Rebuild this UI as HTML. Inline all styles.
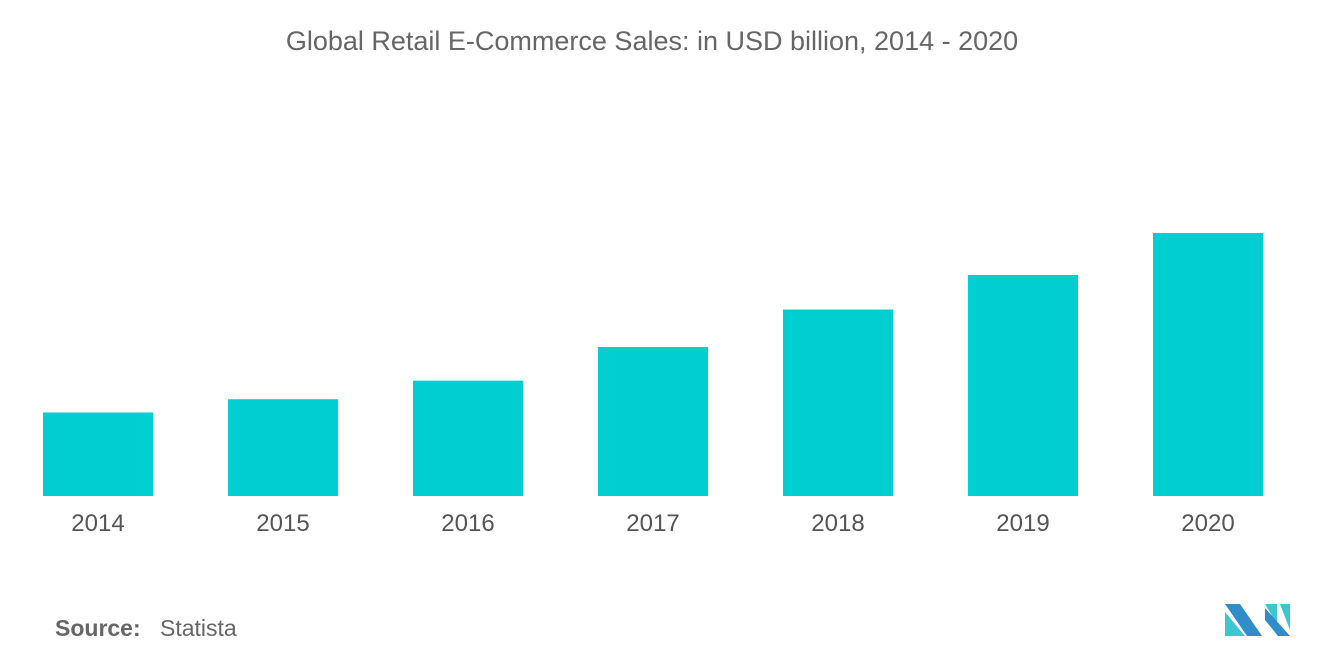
<!DOCTYPE html>
<html><head><meta charset="utf-8"><style>
html,body{margin:0;padding:0;background:#fff;}
body{width:1320px;height:665px;position:relative;overflow:hidden;font-family:"Liberation Sans",sans-serif;}
</style></head><body>
<svg width="1320" height="665" xmlns="http://www.w3.org/2000/svg">
<text x="652" y="50" text-anchor="middle" font-family="Liberation Sans, sans-serif" font-size="27" fill="#666">Global Retail E-Commerce Sales: in USD billion, 2014 - 2020</text>
<g id="bars"></g>
<text x="55" y="636" font-family="Liberation Sans, sans-serif" font-size="23" fill="#666" font-weight="bold">Source:</text>
<text x="160" y="636" font-family="Liberation Sans, sans-serif" font-size="23" fill="#666">Statista</text>
<g>
<polygon points="1225,604 1240,604 1262,636 1247,636" fill="#2f8ec9"/>
<polygon points="1225,612 1245,636 1225,636" fill="#3ec6cf"/>
<polygon points="1265,604 1277,604 1277,624" fill="#3ec6cf"/>
<polygon points="1265,608 1290,636 1278,636 1265,620" fill="#2f8ec9"/>
<polygon points="1280,604 1290,604 1290,630" fill="#3ec6cf"/>
</g>
</svg>
<script>
const categories=["2014","2015","2016","2017","2018","2019","2020"];
const values=[1336,1548,1845,2382,2982,3535,4206];
const baseY=496, scale=263/4206, x0=43, step=185, bw=110;
function xPos(i){return x0+i*step;}
function yPos(v){return baseY-v*scale;}
const g=document.getElementById('bars');
const ns="http://www.w3.org/2000/svg";
categories.forEach((c,i)=>{
  const r=document.createElementNS(ns,'rect');
  r.setAttribute('x',xPos(i));r.setAttribute('y',yPos(values[i]));
  r.setAttribute('width',bw);r.setAttribute('height',baseY-yPos(values[i]));
  r.setAttribute('fill','#00ced1');
  
  
  g.appendChild(r);
  const t=document.createElementNS(ns,'text');
  t.setAttribute('x',xPos(i)+bw/2);t.setAttribute('y',531);
  t.setAttribute('text-anchor','middle');t.setAttribute('font-size','24');
  t.setAttribute('fill','#555');t.setAttribute('font-family','Liberation Sans, sans-serif');
  t.textContent=c;
  
  
  g.appendChild(t);
});
</script>
</body></html>
